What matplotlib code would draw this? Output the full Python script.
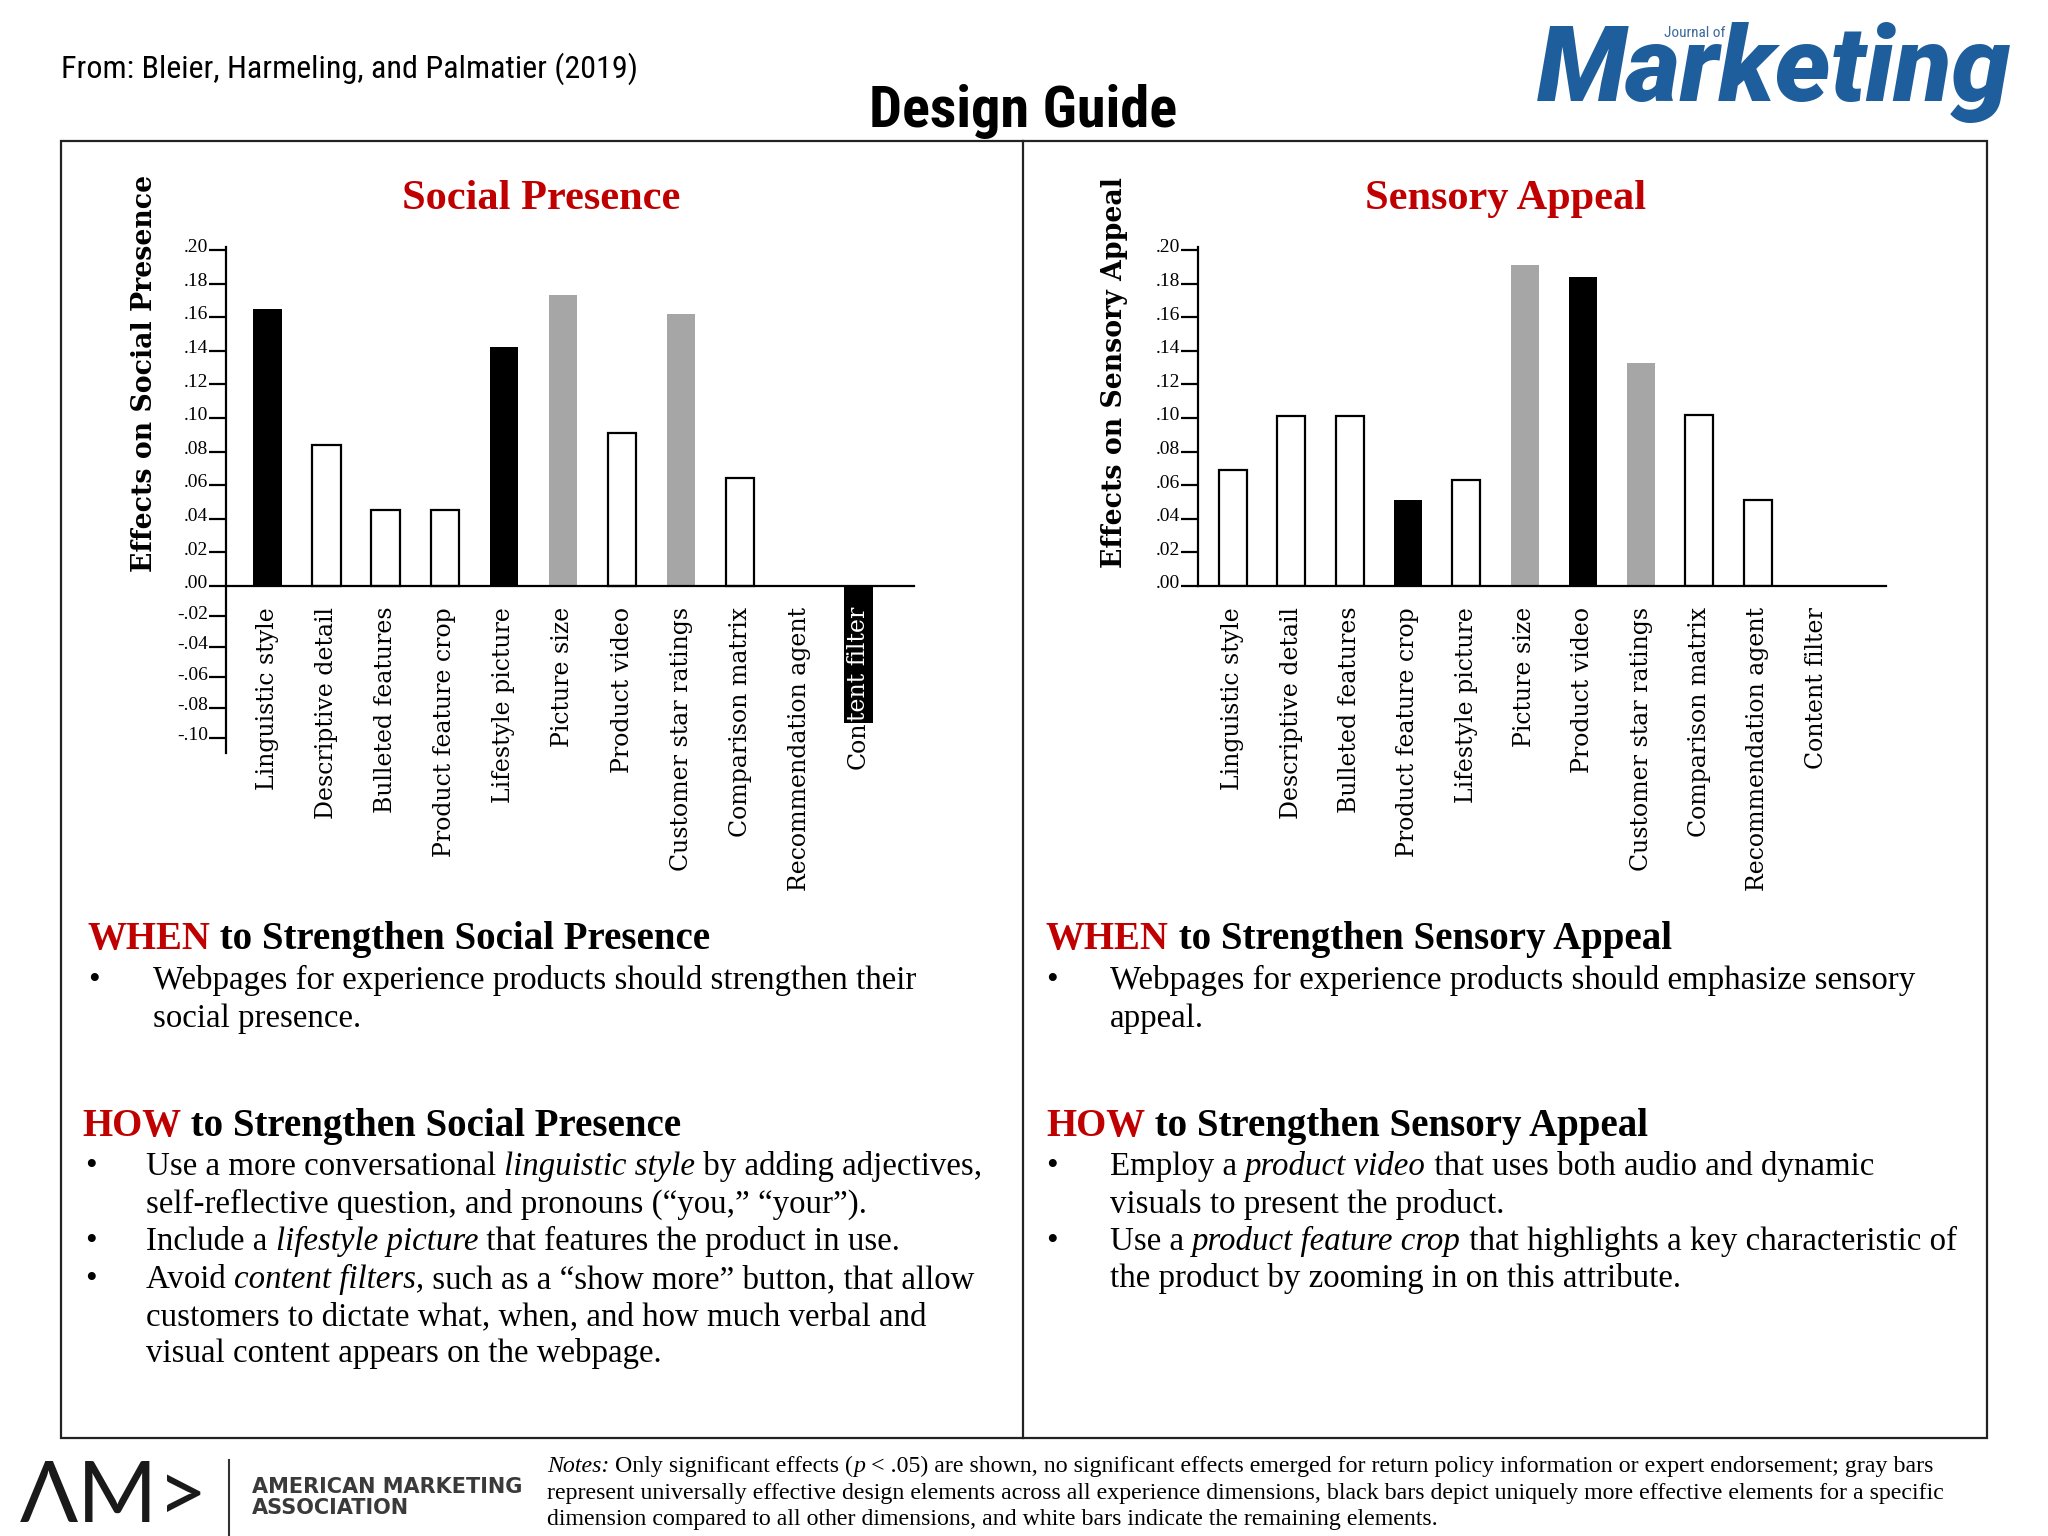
import numpy as np
import matplotlib
matplotlib.use("Agg")
import matplotlib.pyplot as plt
from matplotlib import font_manager
from matplotlib.patches import Rectangle
from matplotlib.lines import Line2D
from matplotlib.ticker import FixedLocator, FuncFormatter
from matplotlib.transforms import ScaledTranslation

# ---------------- data ----------------
categories = ["Linguistic style", "Descriptive detail", "Bulleted features",
              "Product feature crop", "Lifestyle picture", "Picture size",
              "Product video", "Customer star ratings", "Comparison matrix",
              "Recommendation agent", "Content filter"]

social_presence = [0.165, 0.084, 0.045, 0.045, 0.142, 0.173, 0.091, 0.162, 0.064, 0.0, -0.090]
social_types = ["unique", "other", "other", "other", "unique", "universal",
                "other", "universal", "other", "none", "unique"]

sensory_appeal = [0.069, 0.101, 0.101, 0.051, 0.063, 0.191, 0.184, 0.133, 0.102, 0.051, 0.0]
sensory_types = ["other", "other", "other", "unique", "other", "universal",
                 "unique", "universal", "other", "other", "none"]

sp_ticks = [0.20, 0.18, 0.16, 0.14, 0.12, 0.10, 0.08, 0.06, 0.04, 0.02, 0.00,
            -0.02, -0.04, -0.06, -0.08, -0.10]
sa_ticks = [0.20, 0.18, 0.16, 0.14, 0.12, 0.10, 0.08, 0.06, 0.04, 0.02, 0.00]

header_source = "From: Bleier, Harmeling, and Palmatier (2019)"
main_title = "Design Guide"

sp_when_header = [("WHEN", "r"), (" to Strengthen Social Presence", "n")]
sp_when_lines = [
    (True, [("Webpages for experience products should strengthen their", "n")]),
    (False, [("social presence.", "n")]),
]
sp_how_header = [("HOW", "r"), (" to Strengthen Social Presence", "n")]
sp_how_lines = [
    (True, [("Use a more conversational ", "n"), ("linguistic style", "i"), (" by adding adjectives,", "n")]),
    (False, [("self-reflective question, and pronouns (\u201cyou,\u201d \u201cyour\u201d).", "n")]),
    (True, [("Include a ", "n"), ("lifestyle picture", "i"), (" that features the product in use.", "n")]),
    (True, [("Avoid ", "n"), ("content filters,", "i"), (" such as a \u201cshow more\u201d button, that allow", "n")]),
    (False, [("customers to dictate what, when, and how much verbal and", "n")]),
    (False, [("visual content appears on the webpage.", "n")]),
]
sa_when_header = [("WHEN", "r"), (" to Strengthen Sensory Appeal", "n")]
sa_when_lines = [
    (True, [("Webpages for experience products should emphasize sensory", "n")]),
    (False, [("appeal.", "n")]),
]
sa_how_header = [("HOW", "r"), (" to Strengthen Sensory Appeal", "n")]
sa_how_lines = [
    (True, [("Employ a ", "n"), ("product video", "i"), (" that uses both audio and dynamic", "n")]),
    (False, [("visuals to present the product.", "n")]),
    (True, [("Use a ", "n"), ("product feature crop", "i"), (" that highlights a key characteristic of", "n")]),
    (False, [("the product by zooming in on this attribute.", "n")]),
]
notes_lines = [
    [("Notes:", "i"), (" Only significant effects (", "n"), ("p", "i"),
     (" < .05) are shown, no significant effects emerged for return policy information or expert endorsement; gray bars", "n")],
    [("represent universally effective design elements across all experience dimensions, black bars depict uniquely more effective elements for a specific", "n")],
    [("dimension compared to all other dimensions, and white bars indicate the remaining elements.", "n")],
]

# ---------------- styling ----------------
RED = "#c00000"
BLUE = "#1f5e9c"
FILL = {"unique": "black", "universal": "#a6a6a6", "other": "white", "none": "white"}
EDGE = {"unique": "black", "universal": "#a6a6a6", "other": "black", "none": "none"}
LW = {"unique": 0.0, "universal": 0.0, "other": 1.6, "none": 0.0}

available = {f.name for f in font_manager.fontManager.ttflist}


def pick(*names):
    for n in names:
        if n in available:
            return n
    return "DejaVu Sans"


NARROW = pick("Liberation Sans Narrow", "Roboto Condensed", "Liberation Sans")
NSCALE = 1.0 if ("Narrow" in NARROW or "Condensed" in NARROW) else 0.82
SERIF = pick("Liberation Serif", "DejaVu Serif")
WIDE_SERIF = pick("DejaVu Serif", "Liberation Serif")
LOGO = pick("Roboto", "DejaVu Sans")
LOGO_SIZE = 76 if LOGO == "Roboto" else 61

W, H = 2048, 1536
fig = plt.figure(figsize=(W / 100, H / 100), dpi=100)
fig.patch.set_facecolor("white")
renderer = fig.canvas.get_renderer()


def fx(x):
    return x / W


def fy(y):
    return 1 - y / H


NEG = 0.905


def fwd(y):
    y = np.asarray(y, dtype=float)
    return np.where(y >= 0, y, y * NEG)


def inv(u):
    u = np.asarray(u, dtype=float)
    return np.where(u >= 0, u, u / NEG)


def fmt(v, pos=None):
    s = f"{v:.2f}"
    return s.replace("0.", ".")


LABEL_PAD = 15
LABEL_SIZE = 17


def draw_chart(rect, values, types, ticks, ylim, xlim, labels):
    ax = fig.add_axes(rect)
    ax.set_yscale("function", functions=(fwd, inv))
    x = np.arange(len(categories))
    bars = ax.bar(x, values, width=0.48,
                  color=[FILL[t] for t in types],
                  edgecolor=[EDGE[t] for t in types],
                  linewidth=[LW[t] for t in types], zorder=2)
    ax.set_xlim(*xlim)
    ax.set_ylim(*ylim)
    for s in ("top", "right"):
        ax.spines[s].set_visible(False)
    ax.spines["bottom"].set_position(("data", 0))
    ax.spines["bottom"].set_linewidth(1.6)
    ax.spines["left"].set_linewidth(1.6)
    ax.spines["bottom"].set_zorder(3)
    ax.set_xticks(x)
    ax.set_xticklabels(labels, rotation=90, fontsize=LABEL_SIZE, family=WIDE_SERIF)
    ax.tick_params(axis="x", length=0, pad=LABEL_PAD)
    ax.yaxis.set_major_locator(FixedLocator(ticks))
    ax.yaxis.set_minor_locator(FixedLocator([]))
    ax.yaxis.set_major_formatter(FuncFormatter(fmt))
    ax.tick_params(axis="y", length=12, width=1.6, pad=1, labelsize=14)
    off = ScaledTranslation(0, 3 / 72, fig.dpi_scale_trans)
    for lab in ax.get_yticklabels():
        lab.set_family(SERIF)
        lab.set_transform(lab.get_transform() + off)
    ax.set_facecolor("none")
    return ax, bars


# left chart: the last label is split where it leaves the black negative bar
ti = len(categories) - 1
ax1, bars1 = draw_chart([226 / W, 1 - 753.2 / H, 688 / W, 506.6 / H],
                        social_presence, social_types, sp_ticks,
                        (-0.11, 0.202), (-0.70, 10.94),
                        categories[:ti] + [""])
lab_props = dict(rotation=90, ha="center", va="top", fontsize=LABEL_SIZE,
                 family=WIDE_SERIF, zorder=5)
t_in = ax1.text(ti, 0, categories[ti][3:], color="white",
                transform=ax1.get_xaxis_text1_transform(LABEL_PAD)[0], **lab_props)
w_in = t_in.get_window_extent(renderer).height * 72 / fig.dpi
ax1.text(ti, 0, categories[ti][:3], color="black",
         transform=ax1.get_xaxis_text1_transform(LABEL_PAD + w_in)[0], **lab_props)

# right chart
ax2, bars2 = draw_chart([1198 / W, 1 - 586 / H, 688 / W, 339.4 / H],
                        sensory_appeal, sensory_types, sa_ticks,
                        (0.0, 0.202), (-0.60, 11.2), categories)

# chart titles and axis labels
fig.text(fx(541), fy(199), "Social Presence", ha="center", va="center",
         color=RED, fontsize=30.5, fontweight="bold", family=SERIF)
fig.text(fx(1506), fy(199), "Sensory Appeal", ha="center", va="center",
         color=RED, fontsize=30.5, fontweight="bold", family=SERIF)
fig.text(fx(144), fy(373), "Effects on Social Presence", rotation=90,
         ha="center", va="center", fontsize=19.3, fontweight="bold", family=WIDE_SERIF)
fig.text(fx(1115), fy(373), "Effects on Sensory Appeal", rotation=90,
         ha="center", va="center", fontsize=19.3, fontweight="bold", family=WIDE_SERIF)

# frame
fig.add_artist(Rectangle((fx(61), fy(1438)), (1987 - 61) / W, (1438 - 141) / H,
                         transform=fig.transFigure, fill=False, lw=1.6, ec="#222222"))
fig.add_artist(Line2D([fx(1023), fx(1023)], [fy(141), fy(1438)],
                      transform=fig.transFigure, lw=1.6, color="#222222"))

# header
fig.text(fx(61), fy(78), header_source, fontsize=23 * NSCALE, family=NARROW,
         ha="left", va="baseline")
fig.text(fx(1023), fy(127), main_title, fontsize=42 * NSCALE, family=NARROW,
         fontweight="bold", ha="center", va="baseline")
fig.text(fx(1537), fy(101), "Marketing", fontsize=LOGO_SIZE, fontweight="black",
         fontstyle="italic", color=BLUE, family=LOGO, ha="left", va="baseline")
fig.text(fx(1664), fy(37), "Journal of", fontsize=11, color="#3a6a9a",
         family=NARROW, ha="left", va="baseline")


# rich text helpers
def seg_width(s, **props):
    t = fig.text(0, 0, s + "|", **props)
    w1 = t.get_window_extent(renderer).width
    t.set_text("|")
    w2 = t.get_window_extent(renderer).width
    t.remove()
    return w1 - w2


def rich_line(x, y, segments, size, bold=False):
    for text, style in segments:
        props = dict(fontsize=size, family=SERIF,
                     fontweight="bold" if bold else "normal",
                     fontstyle="italic" if style == "i" else "normal",
                     color=RED if style == "r" else "black")
        fig.text(fx(x), fy(y), text, ha="left", va="baseline", **props)
        x += seg_width(text, **props)


def block(hx, hy, header, bx, tx, ys, lines, hsize=28, bsize=23.7):
    rich_line(hx, hy, header, hsize, bold=True)
    for y, (bullet, segs) in zip(ys, lines):
        if bullet:
            fig.text(fx(bx), fy(y), "\u2022", fontsize=bsize, family=SERIF,
                     ha="left", va="baseline")
        rich_line(tx, y, segs, bsize)


block(87, 949, sp_when_header, 88, 153, [989, 1027], sp_when_lines)
block(82, 1136, sp_how_header, 85, 146, [1175, 1213, 1250, 1288, 1325, 1362], sp_how_lines)
block(1046, 949, sa_when_header, 1046, 1110, [989, 1027], sa_when_lines)
block(1046, 1136, sa_how_header, 1046, 1110, [1175, 1213, 1250, 1287], sa_how_lines)

# notes
for y, segs in zip([1472, 1499, 1525], notes_lines):
    rich_line(547, y, segs, 17.2)

# AMA logo
fig.text(fx(20), fy(1522), "\u039bM>", fontsize=62, family=["Lato", "DejaVu Sans"],
         fontweight="normal", color="#1a1a1a", ha="left", va="baseline")
fig.add_artist(Line2D([fx(229), fx(229)], [fy(1460), fy(1536)],
                      transform=fig.transFigure, lw=1.5, color="#333333"))
fig.text(fx(252), fy(1493), "AMERICAN MARKETING", fontsize=15, fontweight="bold",
         family="DejaVu Sans", color="#3a3a3a", ha="left", va="baseline")
fig.text(fx(252), fy(1514), "ASSOCIATION", fontsize=15, fontweight="bold",
         family="DejaVu Sans", color="#3a3a3a", ha="left", va="baseline")

fig.savefig("out.png", dpi=100, facecolor="white")
